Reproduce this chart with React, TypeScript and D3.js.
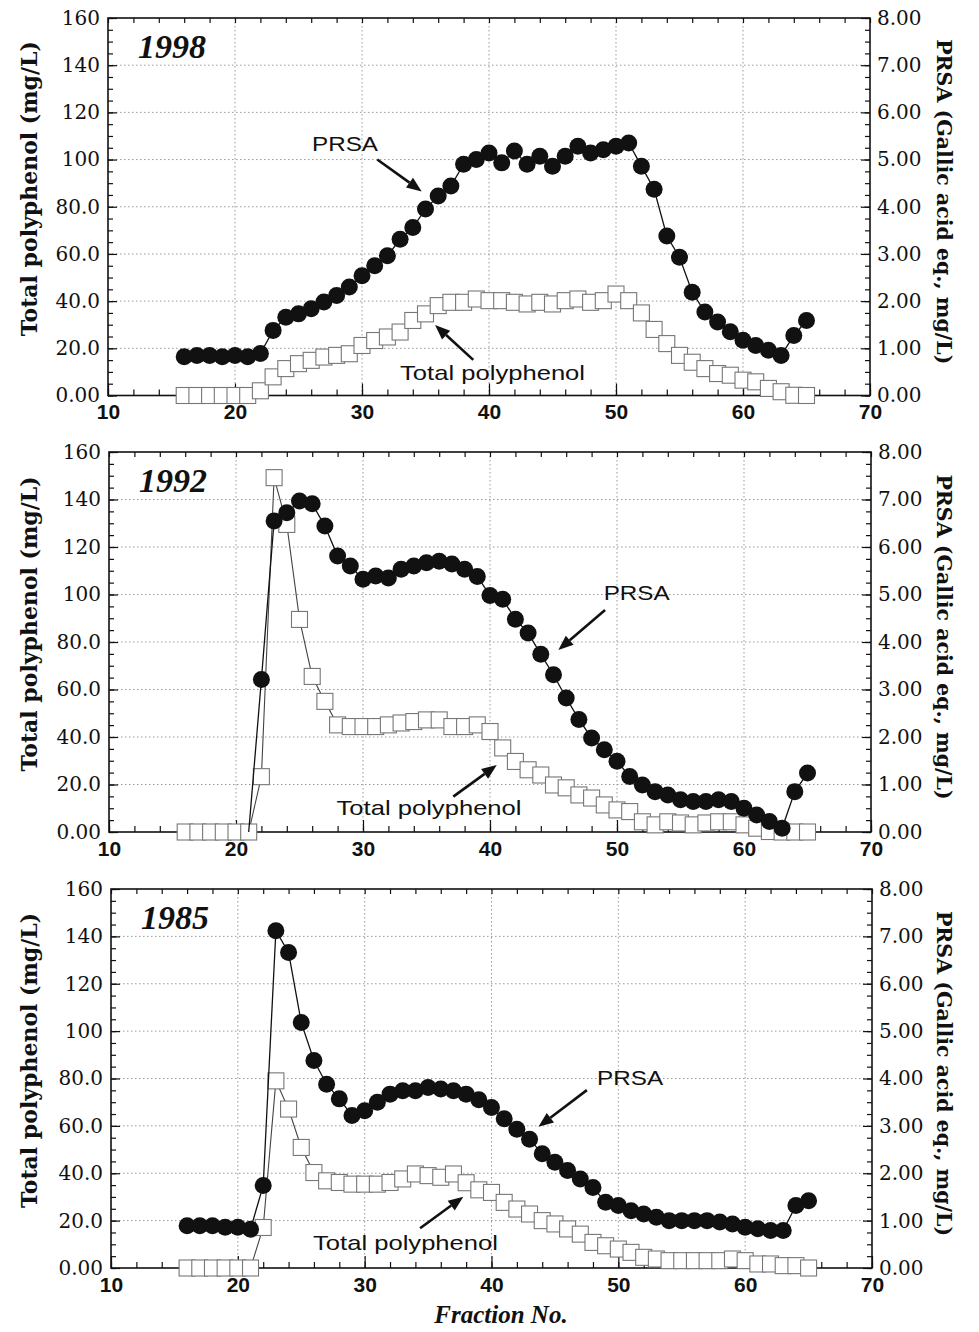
import { useEffect, useRef } from 'react'
import * as d3 from 'd3'

const W = 979
const H = 1332

const FRACTIONS = [
  16, 17, 18, 19, 20, 21, 22, 23, 24, 25, 26, 27, 28, 29, 30, 31, 32,
  33, 34, 35, 36, 37, 38, 39, 40, 41, 42, 43, 44, 45, 46, 47, 48, 49,
  50, 51, 52, 53, 54, 55, 56, 57, 58, 59, 60, 61, 62, 63, 64, 65,
]

// PRSA, gallic acid eq. mg/L (right axis)
const PRSA_1998 = [
  0.82, 0.85, 0.85, 0.82, 0.85, 0.82, 0.89, 1.38, 1.66, 1.73, 1.84, 1.98, 2.12, 2.30, 2.54, 2.75, 2.96,
  3.31, 3.56, 3.95, 4.23, 4.44, 4.90, 5.00, 5.14, 4.93, 5.18, 4.90, 5.07, 4.86, 5.07, 5.28, 5.14, 5.21,
  5.28, 5.35, 4.86, 4.37, 3.38, 2.93, 2.19, 1.77, 1.56, 1.35, 1.17, 1.06, 0.96, 0.85, 1.27, 1.59,
]
// total polyphenol, mg/L (left axis)
const TP_1998 = [
  0, 0, 0, 0, 0, 0, 2, 7.9, 11.4, 13.5, 14.9, 16.3, 17.0, 17.7, 21.2, 23.3, 24.8,
  26.9, 31.8, 34.6, 38.1, 39.5, 39.5, 40.9, 40.2, 40.2, 39.5, 38.8, 39.5, 38.8, 40.2, 40.9, 39.5, 40.2,
  43.0, 40.2, 35, 28, 22, 17, 14.1, 11.4, 9.3, 8.6, 6.5, 5.8, 3, 1.6, 0.1, 0,
]

const PRSA_1992 = [
  null, null, null, null, null, 0, 3.21, 6.55, 6.72, 6.97, 6.91, 6.44, 5.81, 5.60, 5.32, 5.39, 5.35,
  5.53, 5.60, 5.67, 5.70, 5.64, 5.53, 5.38, 4.98, 4.90, 4.48, 4.19, 3.74, 3.31, 2.82, 2.37, 1.98, 1.73,
  1.49, 1.17, 0.99, 0.85, 0.78, 0.68, 0.64, 0.64, 0.68, 0.64, 0.50, 0.36, 0.22, 0.08, 0.85, 1.24,
]
const TP_1992 = [
  0, 0, 0, 0, 0, 0, 23.3, 149.2, 129.5, 89.5, 65.5, 55, 45.1, 44.4, 44.4, 44.4, 45.1,
  45.9, 46.5, 47.2, 47.2, 44.4, 44.4, 45.1, 42.3, 35.4, 29.7, 26.2, 24, 19.8, 18.6, 15.6, 14.3, 11.4,
  9.3, 8.6, 4.3, 3, 4.3, 3.8, 3, 3.8, 4.3, 4.3, 3, 1.6, 0.2, 0, 0, 0,
]

const PRSA_1985 = [
  0.89, 0.89, 0.89, 0.86, 0.86, 0.82, 1.74, 7.12, 6.66, 5.18, 4.38, 3.88, 3.57, 3.22, 3.32, 3.50, 3.67,
  3.74, 3.74, 3.81, 3.78, 3.74, 3.67, 3.55, 3.39, 3.15, 2.93, 2.72, 2.41, 2.23, 2.06, 1.88, 1.70, 1.39,
  1.32, 1.21, 1.14, 1.07, 1.00, 1.00, 1.00, 1.00, 0.97, 0.93, 0.86, 0.83, 0.79, 0.79, 1.32, 1.42,
]
const TP_1985 = [
  0, 0, 0, 0, 0, 0, 17.1, 79.0, 67.1, 50.9, 40.3, 36.8, 36.1, 35.4, 35.4, 35.4, 36.1,
  37.6, 39.7, 39, 38.3, 39.7, 36, 33, 31.9, 27.7, 24.9, 22.8, 20, 18.6, 16.5, 14.3, 10.8, 9.4,
  8, 6.6, 4.5, 3.8, 3.1, 3.1, 3.1, 3.1, 3.1, 3.8, 3.1, 1.7, 1.7, 1, 1, 0,
]

const YEARS = ['1998', '1992', '1985']
const PRSA_SERIES = [PRSA_1998, PRSA_1992, PRSA_1985]
const TP_SERIES = [TP_1998, TP_1992, TP_1985]

const LEFT_TICKS = [0, 20, 40, 60, 80, 100, 120, 140, 160]
const LEFT_LABELS = ['0.00', '20.0', '40.0', '60.0', '80.0', '100', '120', '140', '160']
const RIGHT_TICKS = [0, 1, 2, 3, 4, 5, 6, 7, 8]
const RIGHT_LABELS = ['0.00', '1.00', '2.00', '3.00', '4.00', '5.00', '6.00', '7.00', '8.00']
const X_TICKS = [10, 20, 30, 40, 50, 60, 70]
const X_GRID = [20, 30, 40, 50, 60]
const Y_GRID = [20, 40, 60, 80, 100, 120, 140]

// plot frames, px
const BOXES = [
  { left: 108, right: 870, top: 18, bottom: 395.5 },
  { left: 109, right: 871, top: 452, bottom: 832 },
  { left: 111, right: 872, top: 889, bottom: 1268 },
]

// callouts in data units [fraction, left-axis value]
const NOTES = [
  [
    { text: 'PRSA', at: [28.66, 103.5], len: 66, from: [31.2, 100], to: [34.7, 86.5] },
    { text: 'Total polyphenol', at: [40.28, 6.6], len: 185, from: [38.76, 15.1], to: [35.75, 29.9] },
  ],
  [
    { text: 'PRSA', at: [51.55, 97.7], len: 66, from: [49.06, 93.5], to: [45.38, 76.6] },
    { text: 'Total polyphenol', at: [35.2, 7.2], len: 185, from: [37.11, 14.9], to: [40.53, 28.2] },
  ],
  [
    { text: 'PRSA', at: [50.93, 77.2], len: 66, from: [47.52, 75.1], to: [43.7, 59.6] },
    { text: 'Total polyphenol', at: [33.22, 7.6], len: 185, from: [34.37, 16.8], to: [37.78, 30.1] },
  ],
]

const SERIF = "'DejaVu Serif', serif"
const TIMES = "'Liberation Serif', serif"
const SANS = "'Liberation Sans', Arial, sans-serif"
const INK = '#111'

function arrow(g, x1, y1, x2, y2) {
  const dx = x2 - x1
  const dy = y2 - y1
  const len = Math.hypot(dx, dy)
  const ux = dx / len
  const uy = dy / len
  const hl = 15
  const hw = 6
  const bx = x2 - ux * hl
  const by = y2 - uy * hl
  g.append('line')
    .attr('x1', x1).attr('y1', y1).attr('x2', bx).attr('y2', by)
    .attr('stroke', INK).attr('stroke-width', 2.6)
  g.append('path')
    .attr('d', `M${x2},${y2}L${bx - uy * hw},${by + ux * hw}L${bx + uy * hw},${by - ux * hw}Z`)
    .attr('fill', INK)
}

function styleAxis(sel, font, size, weight) {
  sel.attr('font-family', font).attr('font-size', size).attr('font-weight', weight)
  sel.select('.domain').remove()
  sel.selectAll('line').attr('stroke', INK).attr('stroke-width', 1.2)
  sel.selectAll('text').attr('fill', INK)
}

function drawPanel(svg, idx) {
  const box = BOXES[idx]
  const prsa = PRSA_SERIES[idx]
  const tp = TP_SERIES[idx]
  const g = svg.append('g')

  const x = d3.scaleLinear().domain([10, 70]).range([box.left, box.right])
  const yL = d3.scaleLinear().domain([0, 160]).range([box.bottom, box.top])
  const yR = d3.scaleLinear().domain([0, 8]).range([box.bottom, box.top])

  // dotted grid
  g.append('g').selectAll('line').data(Y_GRID).join('line')
    .attr('x1', box.left).attr('x2', box.right)
    .attr('y1', d => yL(d)).attr('y2', d => yL(d))
    .attr('stroke', '#999').attr('stroke-width', 1).attr('stroke-dasharray', '1.5,2.5')
  g.append('g').selectAll('line').data(X_GRID).join('line')
    .attr('y1', box.top).attr('y2', box.bottom)
    .attr('x1', d => x(d)).attr('x2', d => x(d))
    .attr('stroke', '#999').attr('stroke-width', 1).attr('stroke-dasharray', '1.5,2.5')

  // left axis
  g.append('g').attr('transform', `translate(${box.left},0)`)
    .call(d3.axisLeft(yL).tickValues(d3.range(0, 161, 5)).tickFormat(() => '').tickSizeInner(-5).tickSizeOuter(0))
    .call(s => styleAxis(s, SERIF, 20, 'normal'))
  g.append('g').attr('transform', `translate(${box.left},0)`)
    .call(d3.axisLeft(yL).tickValues(LEFT_TICKS).tickFormat(d => LEFT_LABELS[LEFT_TICKS.indexOf(d)])
      .tickSizeInner(-9).tickSizeOuter(0).tickPadding(8))
    .call(s => styleAxis(s, SERIF, 20, 'normal'))

  // right axis
  g.append('g').attr('transform', `translate(${box.right},0)`)
    .call(d3.axisRight(yR).tickValues(d3.range(0, 8.01, 0.25)).tickFormat(() => '').tickSizeInner(-5).tickSizeOuter(0))
    .call(s => styleAxis(s, SERIF, 20, 'normal'))
  g.append('g').attr('transform', `translate(${box.right},0)`)
    .call(d3.axisRight(yR).tickValues(RIGHT_TICKS).tickFormat(d => RIGHT_LABELS[RIGHT_TICKS.indexOf(d)])
      .tickSizeInner(-9).tickSizeOuter(0).tickPadding(7))
    .call(s => styleAxis(s, SERIF, 20, 'normal'))

  // bottom and top axes
  g.append('g').attr('transform', `translate(0,${box.bottom})`)
    .call(d3.axisBottom(x).tickValues(d3.range(10, 71, 2)).tickFormat(() => '').tickSizeInner(-6).tickSizeOuter(0))
    .call(s => styleAxis(s, SANS, 21, 'bold'))
  g.append('g').attr('transform', `translate(0,${box.bottom})`)
    .call(d3.axisBottom(x).tickValues(X_TICKS).tickFormat(d => String(d)).tickSizeInner(-12).tickSizeOuter(0).tickPadding(9))
    .call(s => styleAxis(s, SANS, 21, 'bold'))
  g.append('g').attr('transform', `translate(0,${box.top})`)
    .call(d3.axisTop(x).tickValues(d3.range(10, 71, 2)).tickFormat(() => '').tickSizeInner(-5).tickSizeOuter(0))
    .call(s => styleAxis(s, SANS, 21, 'bold'))

  g.append('rect')
    .attr('x', box.left).attr('y', box.top)
    .attr('width', box.right - box.left).attr('height', box.bottom - box.top)
    .attr('fill', 'none').attr('stroke', INK).attr('stroke-width', 1.6)

  // total polyphenol: open squares
  const tpPts = FRACTIONS.map((f, i) => ({ f, v: tp[i] }))
  g.append('path').datum(tpPts)
    .attr('fill', 'none').attr('stroke', '#444').attr('stroke-width', 1.1)
    .attr('d', d3.line().x(d => x(d.f)).y(d => yL(d.v)))
  const sq = 16
  g.append('g').selectAll('rect').data(tpPts).join('rect')
    .attr('x', d => x(d.f) - sq / 2).attr('y', d => yL(d.v) - sq / 2)
    .attr('width', sq).attr('height', sq)
    .attr('fill', '#fff').attr('stroke', '#777').attr('stroke-width', 1.1)

  // PRSA: filled circles
  const prPts = FRACTIONS.map((f, i) => ({ f, v: prsa[i] }))
  g.append('path').datum(prPts)
    .attr('fill', 'none').attr('stroke', INK).attr('stroke-width', 1.3)
    .attr('d', d3.line().defined(d => d.v != null).x(d => x(d.f)).y(d => yR(d.v)))
  g.append('g').selectAll('circle').data(prPts.filter(d => d.v != null && d.v > 0)).join('circle')
    .attr('cx', d => x(d.f)).attr('cy', d => yR(d.v)).attr('r', 8.5)
    .attr('fill', INK)

  // year
  g.append('text')
    .attr('x', box.left + 30).attr('y', box.top + 40)
    .attr('font-family', TIMES).attr('font-size', 34).attr('font-weight', 'bold').attr('font-style', 'italic')
    .attr('fill', INK)
    .text(YEARS[idx])

  // callouts
  NOTES[idx].forEach(n => {
    g.append('text')
      .attr('x', x(n.at[0])).attr('y', yL(n.at[1]))
      .attr('text-anchor', 'middle')
      .attr('font-family', SANS).attr('font-size', 21)
      .attr('textLength', n.len).attr('lengthAdjust', 'spacingAndGlyphs')
      .attr('fill', INK)
      .text(n.text)
    arrow(g, x(n.from[0]), yL(n.from[1]), x(n.to[0]), yL(n.to[1]))
  })

  // axis titles
  const cy = (box.top + box.bottom) / 2
  g.append('text')
    .attr('transform', `translate(37,${cy - 18}) rotate(-90)`)
    .attr('text-anchor', 'middle')
    .attr('font-family', SERIF).attr('font-size', 22).attr('font-weight', 'bold')
    .attr('fill', INK)
    .text('Total polyphenol (mg/L)')
  g.append('text')
    .attr('transform', `translate(937,${cy - 5}) rotate(90)`)
    .attr('text-anchor', 'middle')
    .attr('font-family', SERIF).attr('font-size', 20.5).attr('font-weight', 'bold')
    .attr('fill', INK)
    .text('PRSA (Gallic acid eq., mg/L)')
}

export default function App() {
  const svgRef = useRef(null)

  useEffect(() => {
    const svg = d3.select(svgRef.current)
    svg.selectAll('*').remove()
    svg.append('rect').attr('width', W).attr('height', H).attr('fill', '#fff')
    YEARS.forEach((_, i) => drawPanel(svg, i))

    svg.append('text')
      .attr('x', 501).attr('y', 1323)
      .attr('text-anchor', 'middle')
      .attr('font-family', TIMES).attr('font-size', 25).attr('font-weight', 'bold').attr('font-style', 'italic')
      .attr('fill', INK)
      .text('Fraction No.')
  }, [])

  return (
    <svg
      ref={svgRef}
      width={W}
      height={H}
      style={{ position: 'absolute', left: 0, top: 0, display: 'block' }}
    />
  )
}
